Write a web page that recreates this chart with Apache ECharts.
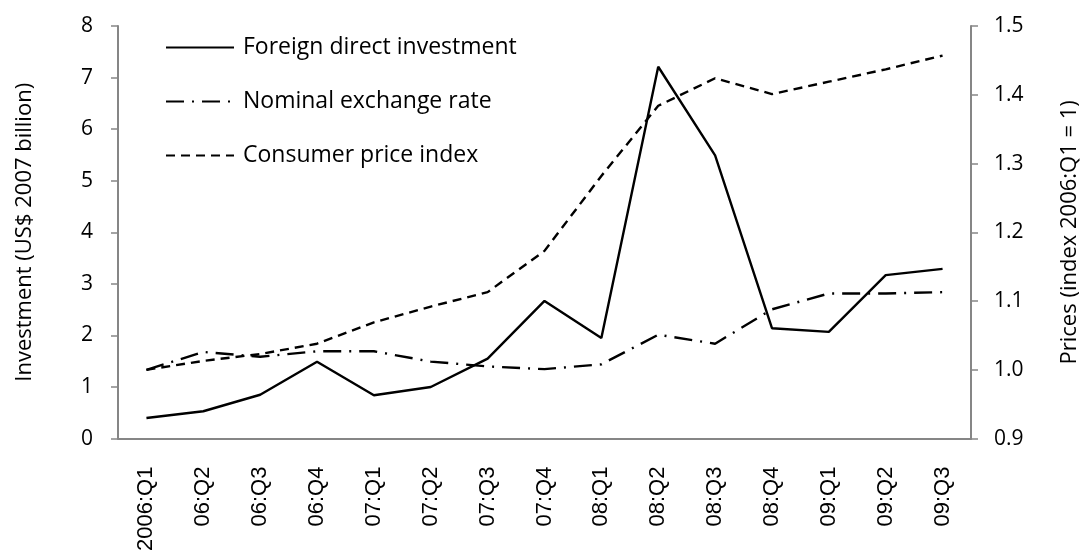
<!DOCTYPE html>
<html><head><meta charset="utf-8">
<script src="https://cdn.jsdelivr.net/npm/echarts@6/dist/echarts.min.js"></script>
<style>html,body{margin:0;padding:0;background:#fff}#c{width:1089px;height:554px}</style>
</head><body><div id="c"></div>
<script>
const categories = ['2006:Q1','06:Q2','06:Q3','06:Q4','07:Q1','07:Q2','07:Q3','07:Q4','08:Q1','08:Q2','08:Q3','08:Q4','09:Q1','09:Q2','09:Q3'];
const fdi = [0.40,0.53,0.85,1.49,0.84,1.00,1.55,2.67,1.95,7.21,5.49,2.14,2.07,3.17,3.29];
const exchangeRate = [1.000,1.026,1.019,1.027,1.027,1.012,1.005,1.001,1.008,1.051,1.038,1.088,1.111,1.111,1.113];
const cpi = [1.000,1.013,1.023,1.038,1.069,1.092,1.113,1.173,1.282,1.384,1.424,1.401,1.419,1.437,1.457];

const axisColor = '#868686';
const font = '"Open Sans", Lato, sans-serif';
const chart = echarts.init(document.getElementById('c'));
chart.setOption({
  animation: false,
  backgroundColor: '#fff',
  grid: {left: 118, right: 109, top: 26, bottom: 115},
  legend: {
    orient: 'vertical', left: 160, top: 31, itemWidth: 68, itemHeight: 22, itemGap: 31,
    itemStyle: {opacity: 0},
    textStyle: {fontFamily: font, fontSize: 23, lineHeight: 22, color: '#000', padding: [0,0,0,4]},
    data: ['Foreign direct investment','Nominal exchange rate','Consumer price index']
  },
  xAxis: {
    type: 'category', data: categories, boundaryGap: true,
    axisLine: {lineStyle: {color: axisColor, width: 2}},
    axisTick: {lineStyle: {color: axisColor, width: 1.5}, length: 9},
    axisLabel: {rotate: 90, fontFamily: '"Liberation Sans", Arial, sans-serif', fontSize: 22, color: '#000', margin: 28}
  },
  yAxis: [
    {type: 'value', min: 0, max: 8, interval: 1,
     name: 'Investment (US$ 2007 billion)', nameLocation: 'middle', nameGap: 82, nameRotate: 90,
     nameTextStyle: {fontFamily: font, fontSize: 22, color: '#000'},
     axisLine: {show: true, lineStyle: {color: axisColor, width: 2}},
     axisTick: {show: true, length: 7, lineStyle: {color: axisColor, width: 1.5}},
     axisLabel: {fontFamily: font, fontSize: 21, color: '#000', margin: 25},
     splitLine: {show: false}},
    {type: 'value', min: 0.9, max: 1.5, interval: 0.1,
     name: 'Prices (index 2006:Q1 = 1)', nameLocation: 'middle', nameGap: 88, nameRotate: 90,
     nameTextStyle: {fontFamily: font, fontSize: 22, color: '#000'},
     axisLine: {show: true, lineStyle: {color: axisColor, width: 2}},
     axisTick: {show: true, length: 7, lineStyle: {color: axisColor, width: 1.5}},
     axisLabel: {fontFamily: font, fontSize: 21, color: '#000', margin: 23, formatter: v => v.toFixed(1)},
     splitLine: {show: false}}
  ],
  series: [
    {name: 'Foreign direct investment', type: 'line', yAxisIndex: 0, data: fdi, symbol: 'none',
     itemStyle: {color: '#000'}, lineStyle: {color: '#000', width: 2.4, type: 'solid'}},
    {name: 'Nominal exchange rate', type: 'line', yAxisIndex: 1, data: exchangeRate, symbol: 'none',
     itemStyle: {color: '#000'}, lineStyle: {color: '#000', width: 2.4, type: [18, 8, 2, 8]}},
    {name: 'Consumer price index', type: 'line', yAxisIndex: 1, data: cpi, symbol: 'none',
     itemStyle: {color: '#000'}, lineStyle: {color: '#000', width: 2.4, type: [9, 6]}}
  ]
});
</script></body></html>
